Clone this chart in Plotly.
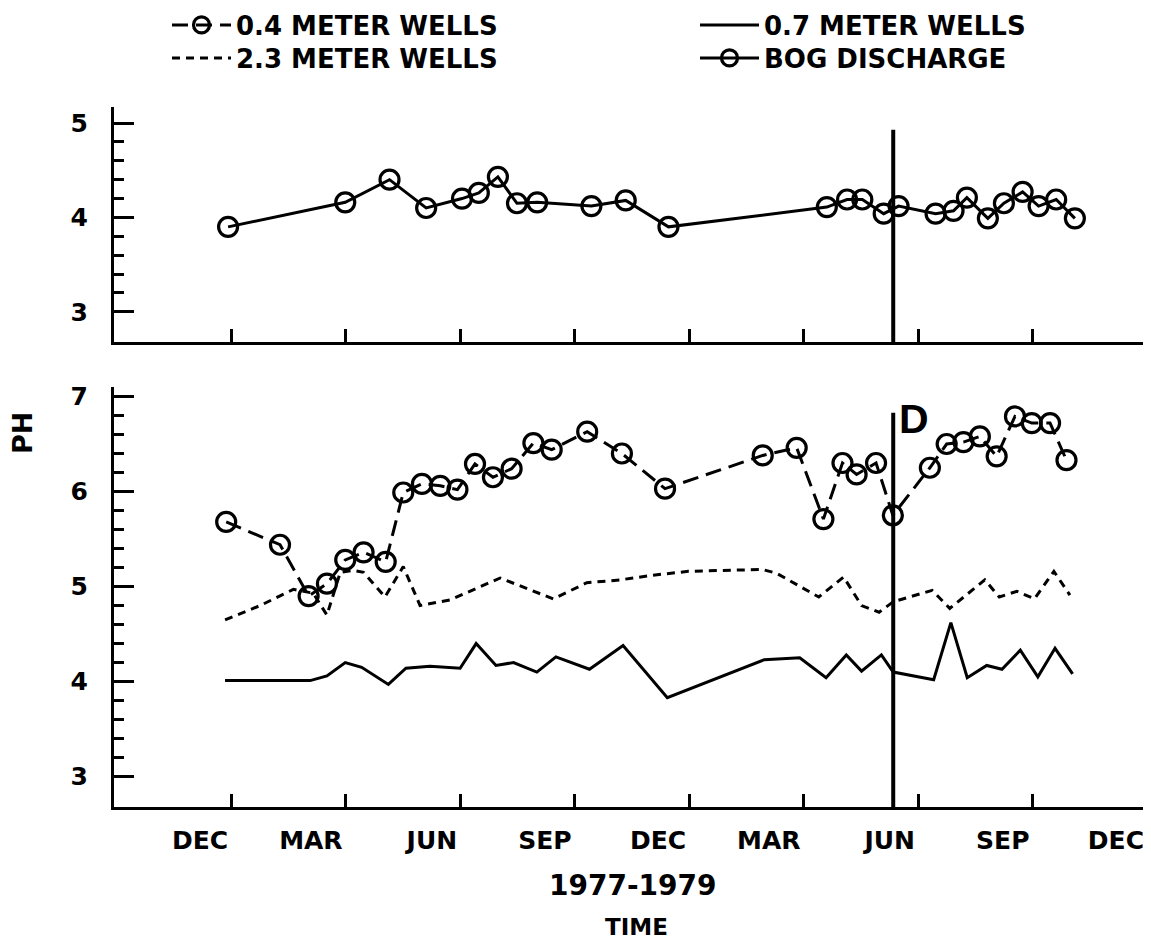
import plotly.graph_objects as go

# ---------------- data (months counted from 1 Dec 1977) ----------------
MONTH_TICKS = [0, 3, 6, 9, 12, 15, 18, 21, 24]
MONTH_LABELS = ["DEC", "MAR", "JUN", "SEP", "DEC", "MAR", "JUN", "SEP", "DEC"]
PH_TICKS_TOP = [3, 4, 5]
PH_MINOR_TOP = [3.2, 3.4, 3.6, 3.8, 4.2, 4.4, 4.6, 4.8]
PH_TICKS_BOTTOM = [3, 4, 5, 6, 7]
PH_MINOR_BOTTOM = [3.2, 3.4, 3.6, 3.8, 4.2, 4.4, 4.6, 4.8, 5.2, 5.4, 5.6, 5.8,
                   6.2, 6.4, 6.6, 6.8]

BOG_MONTH = [-0.08, 2.99, 4.15, 5.11, 6.05, 6.49, 6.99, 7.49, 8.02, 9.44, 10.34,
             11.46, 15.61, 16.14, 16.54, 17.10, 17.49, 18.46, 18.93, 19.28,
             19.83, 20.25, 20.74, 21.16, 21.62, 22.11]
BOG_PH = [3.90, 4.16, 4.40, 4.10, 4.20, 4.26, 4.43, 4.15, 4.16, 4.12, 4.18,
          3.90, 4.11, 4.19, 4.19, 4.04, 4.12, 4.04, 4.07, 4.21,
          3.99, 4.15, 4.27, 4.12, 4.19, 3.99]

WELL04_MONTH = [-0.13, 1.28, 2.03, 2.51, 2.99, 3.47, 4.05, 4.51, 5.00, 5.48,
                5.93, 6.39, 6.86, 7.35, 7.92, 8.40, 9.33, 10.24, 11.37, 13.93,
                14.82, 15.52, 16.02, 16.39, 16.90, 17.34, 18.31, 18.75, 19.19,
                19.62, 20.06, 20.54, 20.98, 21.46, 21.89]
WELL04_PH = [5.68, 5.44, 4.90, 5.03, 5.28, 5.36, 5.26, 5.99, 6.08, 6.06,
             6.02, 6.29, 6.15, 6.24, 6.51, 6.44, 6.63, 6.40, 6.03, 6.38,
             6.46, 5.71, 6.30, 6.18, 6.30, 5.75, 6.25, 6.50, 6.52,
             6.58, 6.37, 6.79, 6.72, 6.72, 6.33]

WELL07_MONTH = [-0.16, 2.07, 2.51, 2.99, 3.42, 4.12, 4.58, 5.21, 6.00, 6.42,
                6.94, 7.40, 8.01, 8.51, 9.39, 10.27, 11.43, 13.97, 14.90, 15.59,
                16.12, 16.52, 17.04, 17.35, 18.41, 18.86, 19.29, 19.80, 20.20,
                20.68, 21.14, 21.59, 22.05]
WELL07_PH = [4.01, 4.01, 4.06, 4.20, 4.15, 3.97, 4.14, 4.16, 4.14, 4.40,
             4.17, 4.20, 4.10, 4.26, 4.13, 4.38, 3.83, 4.23, 4.25, 4.04,
             4.28, 4.11, 4.28, 4.10, 4.02, 4.62, 4.04, 4.17, 4.13,
             4.33, 4.05, 4.35, 4.08]

WELL23_MONTH = [-0.16, 0.76, 1.63, 2.15, 2.51, 2.86, 3.20, 3.47, 4.03, 4.51,
                4.95, 5.74, 7.05, 8.44, 9.32, 10.19, 11.06, 11.98, 13.92, 14.29,
                15.40, 16.05, 16.52, 16.98, 17.35, 18.37, 18.83, 19.75, 20.13,
                20.59, 21.05, 21.56, 21.98]
WELL23_PH = [4.65, 4.80, 4.97, 4.93, 4.70, 5.15, 5.17, 5.15, 4.89, 5.21,
             4.80, 4.86, 5.09, 4.87, 5.04, 5.07, 5.12, 5.16, 5.18, 5.14,
             4.89, 5.10, 4.80, 4.73, 4.84, 4.96, 4.77, 5.07, 4.89,
             4.95, 4.87, 5.16, 4.91]

VLINE_MONTH = [17.35]
VLINE_TOP_PH = [4.93]
VLINE_BOTTOM_PH = [6.83]
D_LABEL = ["D"]
D_LABEL_MONTH = [17.89]
D_LABEL_PH = [6.76]

# ---------------- styling ----------------
BLACK = "black"
FONT = "DejaVu Sans"
OFF = 8                      # page body margin of the html page
W, H = 1151 - OFF, 940 - OFF
L, R, T, B = 114 - OFF, 4, 107 - OFF, 133
LW = 3

circle = dict(symbol="circle-open", size=19, color=BLACK, line=dict(width=3.2, color=BLACK))

fig = go.Figure()
fig.add_trace(go.Scatter(
    x=WELL04_MONTH, y=WELL04_PH, xaxis="x", yaxis="y2", mode="lines+markers",
    name="0.4 METER WELLS", line=dict(color=BLACK, width=LW, dash="16px,8px"),
    marker=circle, legend="legend", cliponaxis=False))
fig.add_trace(go.Scatter(
    x=WELL23_MONTH, y=WELL23_PH, xaxis="x", yaxis="y2", mode="lines",
    name="2.3 METER WELLS", line=dict(color=BLACK, width=LW, dash="8px,6px"),
    legend="legend2"))
fig.add_trace(go.Scatter(
    x=WELL07_MONTH, y=WELL07_PH, xaxis="x", yaxis="y2", mode="lines",
    name="0.7 METER WELLS", line=dict(color=BLACK, width=LW),
    legend="legend3"))
fig.add_trace(go.Scatter(
    x=BOG_MONTH, y=BOG_PH, xaxis="x2", yaxis="y", mode="lines+markers",
    name="BOG DISCHARGE", line=dict(color=BLACK, width=LW),
    marker=circle, legend="legend4", cliponaxis=False))

# vertical event lines
fig.add_shape(type="line", xref="x2", yref="y", x0=VLINE_MONTH[0], x1=VLINE_MONTH[0],
              y0=2.68, y1=VLINE_TOP_PH[0], line=dict(color=BLACK, width=4))
fig.add_shape(type="line", xref="x", yref="y2", x0=VLINE_MONTH[0], x1=VLINE_MONTH[0],
              y0=2.68, y1=VLINE_BOTTOM_PH[0], line=dict(color=BLACK, width=4))

tickfont = dict(family=FONT, size=25, color=BLACK, weight="bold")
xcommon = dict(range=[-3.07, 24], tickmode="array", tickvals=MONTH_TICKS,
               ticktext=MONTH_LABELS, ticks="inside", ticklen=13, tickwidth=3,
               tickcolor=BLACK, showline=True, linewidth=LW, linecolor=BLACK,
               showgrid=False, zeroline=False, tickfont=tickfont, tickangle=0,
               automargin=False)
ycommon = dict(tickmode="array", ticks="inside", ticklen=20, tickwidth=3,
               tickcolor=BLACK, showline=True, linewidth=LW, linecolor=BLACK,
               showgrid=False, zeroline=False, tickfont=tickfont,
               ticklabelstandoff=18, automargin=False)

top_h = (807 - 342) / 700.0
bot_h = (807 - 387) / 700.0

legfont = dict(family=FONT, size=26, color=BLACK, weight="bold")


def leg(xpx, midpx):
    return dict(xref="container", yref="container", x=(xpx - OFF) / W,
                y=1 - (midpx - OFF) / H, xanchor="left", yanchor="middle",
                itemwidth=59, bgcolor="rgba(0,0,0,0)", font=legfont)


fig.update_layout(
    width=W, height=H, margin=dict(l=L, r=R, t=T, b=B, autoexpand=False),
    paper_bgcolor="white", plot_bgcolor="white",
    font=dict(family=FONT, color=BLACK, weight="bold"),
    xaxis=dict(domain=[0, 1], anchor="y2", ticklabelposition="outside left",
               ticklabelstandoff=9, **xcommon),
    xaxis2=dict(domain=[0, 1], anchor="y", matches="x", showticklabels=False,
                **xcommon),
    yaxis=dict(domain=[top_h, 1], anchor="x2", range=[2.68, 5.17],
               tickvals=PH_TICKS_TOP,
               minor=dict(tickmode="array", tickvals=PH_MINOR_TOP, ticks="inside",
                          ticklen=10, tickwidth=3, tickcolor=BLACK, showgrid=False),
               **ycommon),
    yaxis2=dict(domain=[0, bot_h], anchor="x", range=[2.68, 7.1],
                tickvals=PH_TICKS_BOTTOM,
                minor=dict(tickmode="array", tickvals=PH_MINOR_BOTTOM, ticks="inside",
                           ticklen=10, tickwidth=3, tickcolor=BLACK, showgrid=False),
                **ycommon),
    legend=leg(167, 25),
    legend2=leg(167, 58),
    legend3=leg(695, 25),
    legend4=leg(695, 58),
    showlegend=True,
)

fig.add_annotation(text="PH", xref="paper", yref="paper", x=(22 - 114) / 1033,
                   y=(807 - 433) / 700, textangle=-90, showarrow=False,
                   xanchor="center", yanchor="middle",
                   font=dict(family=FONT, size=27, color=BLACK, weight="bold"))
fig.add_annotation(text="1977-1979", xref="paper", yref="paper", x=(632 - 114) / 1033,
                   y=(807 - 885) / 700, showarrow=False,
                   xanchor="center", yanchor="middle",
                   font=dict(family=FONT, size=28, color=BLACK, weight="bold"))
fig.add_annotation(text="TIME", xref="paper", yref="paper", x=(636 - 114) / 1033,
                   y=(807 - 927) / 700, showarrow=False,
                   xanchor="center", yanchor="middle",
                   font=dict(family=FONT, size=23, color=BLACK, weight="bold"))
fig.add_annotation(text=D_LABEL[0], xref="x", yref="y2", x=D_LABEL_MONTH[0],
                   y=D_LABEL_PH[0], showarrow=False,
                   font=dict(family="Liberation Sans", size=41, color=BLACK, weight="bold"))

fig.write_html("out.html")
